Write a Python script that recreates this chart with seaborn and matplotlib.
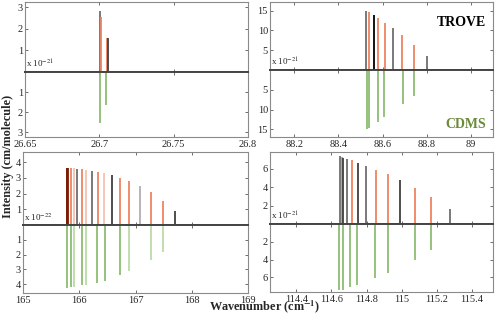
import numpy as np
import pandas as pd
import matplotlib
matplotlib.use('Agg')
import matplotlib.pyplot as plt
import seaborn as sns

# Datos (posiciones en cm-1, intensidades en unidades del factor x10^n)
tl_trove_x = [26.7007, 26.7014, 26.7054, 26.7058]
tl_trove_y = [2.85, 2.54, 1.60, 1.58]
tl_trove_k = ['gray', 'red', 'red', 'dark']
tl_cdms_x = [26.7007, 26.7044]
tl_cdms_y = [2.57, 1.64]
tl_cdms_k = ['green', 'green']

tr_trove_x = [88.526, 88.537, 88.559, 88.580, 88.612, 88.648, 88.689, 88.743, 88.799]
tr_trove_y = [15.0, 14.6, 14.0, 13.1, 12.0, 10.6, 8.8, 6.4, 3.6]
tr_trove_k = ['gray', 'red', 'black', 'red', 'red', 'gray', 'red', 'red', 'gray']
tr_cdms_x = [88.529, 88.538, 88.580, 88.607, 88.694, 88.743]
tr_cdms_y = [15.0, 14.7, 13.1, 11.9, 8.7, 6.5]
tr_cdms_k = ['green', 'green', 'green', 'green', 'green', 'green']

bl_trove_x = [165.78, 165.79, 165.80, 165.855, 165.91, 165.96, 166.05, 166.12, 166.23,
              166.33, 166.44, 166.58, 166.73, 166.89, 167.08, 167.27, 167.48, 167.71]
bl_trove_y = [3.65, 3.65, 3.64, 3.62, 3.60, 3.58, 3.55, 3.53, 3.47,
              3.40, 3.31, 3.18, 2.99, 2.78, 2.46, 2.08, 1.56, 0.90]
bl_trove_k = ['maroon', 'maroon', 'maroon', 'red', 'light', 'gray', 'red', 'light', 'gray',
              'red', 'light', 'dark', 'red', 'red', 'lightgray', 'red', 'red', 'dark']
bl_cdms_x = [165.78, 165.86, 165.91, 166.04, 166.12, 166.32, 166.45, 166.73, 166.89, 167.27, 167.48]
bl_cdms_y = [4.23, 4.18, 4.18, 4.09, 4.07, 3.90, 3.80, 3.41, 3.11, 2.34, 1.80]
bl_cdms_k = ['green', 'green', 'lightgreen', 'green', 'lightgreen', 'green', 'green',
             'green', 'lightgreen', 'lightgreen', 'lightgreen']

br_trove_x = [114.648, 114.659, 114.667, 114.686, 114.716, 114.750, 114.798, 114.851,
              114.922, 114.992, 115.074, 115.168, 115.276]
br_trove_y = [7.34, 7.27, 7.20, 7.05, 6.90, 6.65, 6.30, 5.90, 5.40, 4.75, 3.90, 2.88, 1.58]
br_trove_k = ['gray', 'red', 'dark', 'gray', 'red', 'dark', 'gray', 'red', 'red', 'dark',
              'red', 'red', 'gray']
br_cdms_x = [114.644, 114.667, 114.707, 114.747, 114.850, 114.924, 115.074, 115.168]
br_cdms_y = [7.47, 7.40, 7.10, 6.90, 6.08, 5.50, 4.00, 2.94]
br_cdms_k = ['green'] * 8

palette = {'gray': '#6e6e6e', 'dark': '#404040', 'black': '#000000', 'red': '#ee8363',
           'light': '#f6c2b2', 'maroon': '#7a1c05', 'lightgray': '#b0b0b0',
           'green': '#8cbc72', 'lightgreen': '#bcdba8'}

sns.set_theme(style='white')
plt.rcParams['font.family'] = ['Liberation Serif', 'DejaVu Serif']
plt.rcParams['mathtext.fontset'] = 'stix'
plt.rcParams['xtick.direction'] = 'in'
plt.rcParams['ytick.direction'] = 'in'

fig = plt.figure(figsize=(4.98, 3.15), dpi=100)
W, H = 498.0, 315.0


def add_axes(x0, x1, y0, y1):
    return fig.add_axes([x0 / W, 1 - y1 / H, (x1 - x0) / W, (y1 - y0) / H])


def panel(box, xs_t, ys_t, ks_t, xs_c, ys_c, ks_c, xlim, ytop, ybot, yticks, xticks,
          xticklabels, expo):
    x0, x1, ya, yz, yb = box
    up = add_axes(x0, x1, ya, yz)
    lo = add_axes(x0, x1, yz, yb)
    up.vlines(xs_t, 0, ys_t, colors=[palette[k] for k in ks_t], lw=1.3)
    lo.vlines(xs_c, 0, ys_c, colors=[palette[k] for k in ks_c], lw=1.3)
    up.set_ylim(0, ytop)
    lo.set_ylim(ybot, 0)
    for ax in (up, lo):
        ax.set_xlim(*xlim)
        ax.set_yticks(yticks)
        ax.set_xticks(xticks)
        ax.tick_params(top=True, bottom=True, left=True, right=True, length=2.5,
                       width=0.6, color='#555555', labelsize=7.5, pad=1.5)
        ax.tick_params(axis='x', pad=2.5)
        for s in ax.spines.values():
            s.set_color('#8a8a8a')
            s.set_linewidth(0.8)
        ax.set_facecolor('white')
    up.set_xticklabels([])
    up.spines['bottom'].set_color('#444444')
    up.spines['bottom'].set_linewidth(1.4)
    lo.spines['top'].set_color('#444444')
    lo.spines['top'].set_linewidth(1.4)
    lo.set_xticklabels(xticklabels)
    up.text(0.005, 0.03, r'x 10$^{%d}$' % expo, transform=up.transAxes, fontsize=6.5,
            ha='left', va='bottom')
    return up, lo


panel((25, 248, 2, 72, 137), tl_trove_x, tl_trove_y, tl_trove_k, tl_cdms_x, tl_cdms_y,
      tl_cdms_k, (26.65, 26.8), 3.25, 3.25, [1, 2, 3],
      [26.65, 26.7, 26.75, 26.8], ['26.65', '26.7', '26.75', '26.8'], -21)
up, lo = panel((270, 493, 2, 70, 137), tr_trove_x, tr_trove_y, tr_trove_k, tr_cdms_x,
               tr_cdms_y, tr_cdms_k, (88.09, 89.1), 17.2, 16.9, [5, 10, 15],
               [88.2, 88.4, 88.6, 88.8, 89.0], ['88.2', '88.4', '88.6', '88.8', '89'], -21)
up.text(0.968, 0.70, 'TROVE', transform=up.transAxes, ha='right', va='center',
        fontsize=10, fontweight='bold', color='black')
lo.text(0.968, 0.18, 'CDMS', transform=lo.transAxes, ha='right', va='center',
        fontsize=10, fontweight='bold', color='#6b8a3a')
panel((23, 248, 152, 225, 293), bl_trove_x, bl_trove_y, bl_trove_k, bl_cdms_x, bl_cdms_y,
      bl_cdms_k, (165, 169), 4.65, 4.6, [1, 2, 3, 4],
      [165, 166, 167, 168, 169], ['165', '166', '167', '168', '169'], -22)
panel((270, 493, 152, 224, 292), br_trove_x, br_trove_y, br_trove_k, br_cdms_x, br_cdms_y,
      br_cdms_k, (114.25, 115.52), 7.8, 7.66, [2, 4, 6],
      [114.4, 114.6, 114.8, 115.0, 115.2, 115.4],
      ['114.4', '114.6', '114.8', '115', '115.2', '115.4'], -21)

fig.text(8 / W, 1 - 156 / H, 'Intensity (cm/molecule)', rotation=90, ha='center',
         va='center', fontsize=8.8, fontweight='bold')
fig.text(265 / W, 1 - 307 / H, r'Wavenumber (cm$^{\mathbf{-1}}$)', ha='center',
         va='center', fontsize=8.8, fontweight='bold')

fig.savefig('out.png', dpi=100, facecolor='white')
